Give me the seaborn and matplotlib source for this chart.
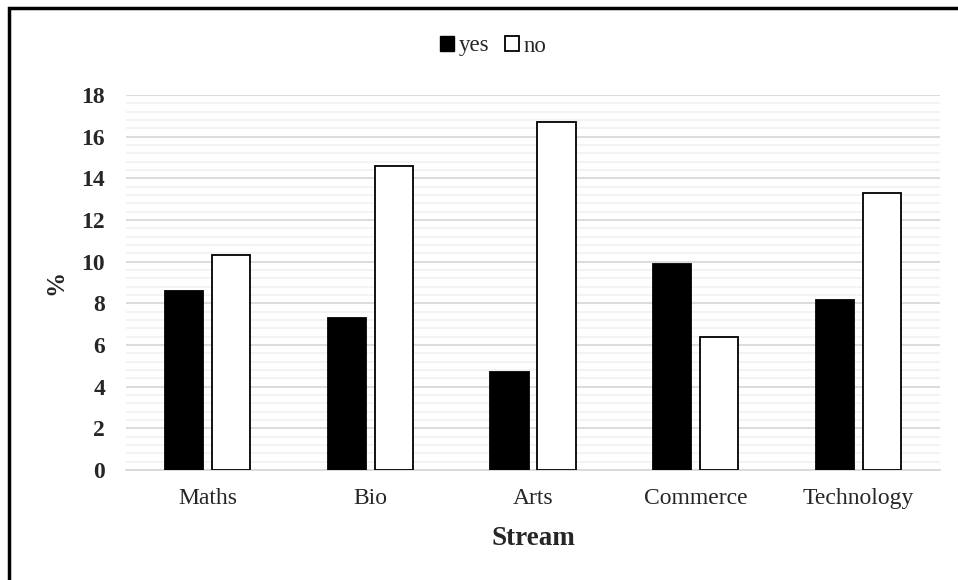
import matplotlib
matplotlib.use("Agg")
import matplotlib.pyplot as plt
from matplotlib.patches import Rectangle, Patch
from matplotlib.ticker import MultipleLocator
import seaborn as sns
import pandas as pd

streams = ["Maths", "Bio", "Arts", "Commerce", "Technology"]
yes_pct = [8.6, 7.3, 4.7, 9.9, 8.15]
no_pct = [10.3, 14.6, 16.7, 6.4, 13.3]
y_ticks = [0, 2, 4, 6, 8, 10, 12, 14, 16, 18]

df = pd.DataFrame({
    "Stream": streams * 2,
    "value": yes_pct + no_pct,
    "answer": ["yes"] * len(streams) + ["no"] * len(streams),
})

sns.set_theme(style="white")
plt.rcParams["font.family"] = ["Liberation Serif", "DejaVu Serif"]

fig = plt.figure(figsize=(9.58, 5.8), dpi=100)
ax = fig.add_axes([126 / 958, 1 - 470 / 580, (940 - 126) / 958, (470 - 95) / 580])

sns.barplot(
    data=df, x="Stream", y="value", hue="answer",
    palette={"yes": "black", "no": "white"},
    edgecolor="black", linewidth=1.3,
    width=0.577, gap=0.19, ax=ax, legend=False, zorder=3,
)

ax.set_ylim(0, 18)
ax.set_yticks(y_ticks)
ax.yaxis.set_minor_locator(MultipleLocator(0.4))
ax.grid(which="minor", axis="y", color="#f2f2f2", linewidth=1.3, zorder=0)
ax.grid(which="major", axis="y", color="#d9d9d9", linewidth=1.3, zorder=1)
ax.set_axisbelow(True)
ax.tick_params(axis="both", which="both", length=0)
ax.tick_params(axis="y", labelsize=17, pad=15)
ax.tick_params(axis="x", labelsize=17, pad=13)
for lbl in ax.get_yticklabels():
    lbl.set_fontweight("bold")

for s in ["top", "right", "left"]:
    ax.spines[s].set_visible(False)
ax.spines["bottom"].set_color("#d9d9d9")
ax.spines["bottom"].set_linewidth(1.3)

ax.set_xlabel("Stream", fontsize=19.5, fontweight="bold", labelpad=12)
ax.set_ylabel("%", fontsize=18, fontweight="bold", labelpad=10)

handles = [
    Patch(facecolor="black", edgecolor="black", linewidth=1.0),
    Patch(facecolor="white", edgecolor="black", linewidth=1.3),
]
fig.legend(
    handles, ["yes", "no"], loc="center",
    bbox_to_anchor=(0.5 + 14 / 958, 1 - 46 / 580),
    ncol=2, frameon=False, fontsize=16.5, handlelength=0.6, handleheight=0.6,
    handletextpad=0.2, columnspacing=0.7,
)

# outer chart border
fig.patches.append(Rectangle(
    (9 / 958, -0.05), 1.1, 1 - 7.5 / 580 + 0.05,
    transform=fig.transFigure, fill=False, edgecolor="black", linewidth=2.5,
))

fig.savefig("out.png", dpi=100)
